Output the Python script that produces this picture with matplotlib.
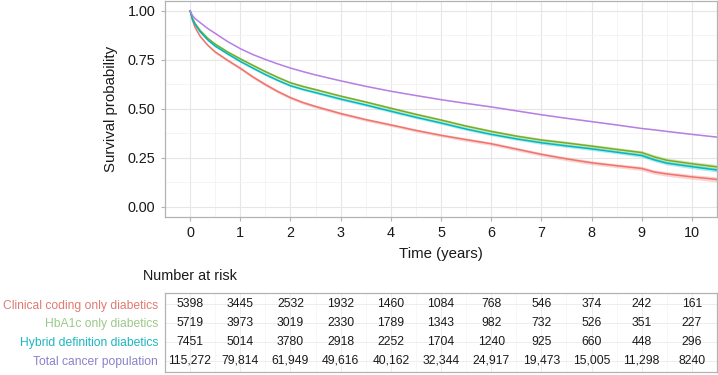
import matplotlib
matplotlib.use("Agg")
import matplotlib.pyplot as plt
import numpy as np

plt.rcParams['font.family'] = ['Liberation Sans', 'DejaVu Sans']

# ---- data ----
times = [0, 0.05, 0.1, 0.2, 0.35, 0.5, 0.75, 1, 1.25, 1.5, 1.75, 2, 2.25, 2.5, 3, 3.5,
         4, 4.5, 5, 5.5, 6, 6.5, 7, 7.5, 8, 8.5, 9, 9.25, 9.5, 10, 10.5]
surv_clinical = [1.0, 0.95, 0.915, 0.87, 0.825, 0.79, 0.747, 0.707, 0.663, 0.624, 0.588,
                 0.557, 0.532, 0.512, 0.476, 0.445, 0.418, 0.39, 0.365, 0.343, 0.322, 0.295,
                 0.268, 0.245, 0.225, 0.21, 0.196, 0.178, 0.168, 0.153, 0.14]
surv_hba1c = [1.0, 0.96, 0.935, 0.9, 0.86, 0.83, 0.79, 0.755, 0.722, 0.69, 0.66,
              0.633, 0.614, 0.598, 0.565, 0.535, 0.503, 0.472, 0.443, 0.412, 0.385, 0.361,
              0.341, 0.326, 0.31, 0.293, 0.277, 0.255, 0.238, 0.22, 0.204]
surv_hybrid = [1.0, 0.955, 0.93, 0.893, 0.852, 0.82, 0.78, 0.742, 0.708, 0.675, 0.645,
               0.618, 0.599, 0.583, 0.55, 0.52, 0.488, 0.457, 0.428, 0.397, 0.37, 0.347,
               0.327, 0.311, 0.296, 0.279, 0.262, 0.24, 0.223, 0.205, 0.188]
surv_total = [1.0, 0.975, 0.96, 0.94, 0.91, 0.885, 0.843, 0.807, 0.777, 0.752, 0.729,
              0.708, 0.69, 0.673, 0.643, 0.615, 0.59, 0.568, 0.547, 0.528, 0.51, 0.49,
              0.47, 0.452, 0.435, 0.418, 0.40, 0.393, 0.385, 0.37, 0.356]
# half-widths of 95% confidence bands
ci_clinical = [0, 0.003, 0.004, 0.005, 0.006, 0.007, 0.007, 0.008, 0.008, 0.008, 0.008,
               0.008, 0.008, 0.008, 0.008, 0.008, 0.008, 0.008, 0.008, 0.009, 0.009, 0.009,
               0.009, 0.010, 0.010, 0.010, 0.011, 0.011, 0.012, 0.012, 0.013]
ci_hba1c = [0, 0.003, 0.004, 0.005, 0.005, 0.006, 0.006, 0.007, 0.007, 0.007, 0.007,
            0.007, 0.007, 0.007, 0.007, 0.007, 0.008, 0.008, 0.008, 0.008, 0.008, 0.008,
            0.009, 0.009, 0.009, 0.010, 0.010, 0.011, 0.011, 0.011, 0.012]
ci_hybrid = [0, 0.002, 0.003, 0.004, 0.005, 0.005, 0.006, 0.006, 0.006, 0.006, 0.006,
             0.006, 0.006, 0.006, 0.007, 0.007, 0.007, 0.007, 0.007, 0.007, 0.007, 0.007,
             0.008, 0.008, 0.008, 0.008, 0.009, 0.009, 0.009, 0.010, 0.010]
ci_total = [0] + [0.0015] * 30

groups = ["Clinical coding only diabetics", "HbA1c only diabetics",
          "Hybrid definition diabetics", "Total cancer population"]
risk_times = [0, 1, 2, 3, 4, 5, 6, 7, 8, 9, 10]
risk_clinical = ["5398", "3445", "2532", "1932", "1460", "1084", "768", "546", "374", "242", "161"]
risk_hba1c = ["5719", "3973", "3019", "2330", "1789", "1343", "982", "732", "526", "351", "227"]
risk_hybrid = ["7451", "5014", "3780", "2918", "2252", "1704", "1240", "925", "660", "448", "296"]
risk_total = ["115,272", "79,814", "61,949", "49,616", "40,162", "32,344", "24,917",
              "19,473", "15,005", "11,298", "8240"]

line_colors = ["#F0736C", "#72AE2A", "#00B9C0", "#B77FE3"]
label_colors = ["#E07A74", "#9CC98A", "#1CB8C0", "#8A82CC"]

surv = [surv_clinical, surv_hba1c, surv_hybrid, surv_total]
cis = [ci_clinical, ci_hba1c, ci_hybrid, ci_total]
risks = [risk_clinical, risk_hba1c, risk_hybrid, risk_total]

W, H = 718, 375
fig = plt.figure(figsize=(W / 100, H / 100), dpi=100)

def fx(px):
    return px / W

def fy(py):
    return 1 - py / H

# main axes
ax = fig.add_axes([fx(165), fy(216.7), fx(717 - 165), (216.7 - 1) / H])
border = "#B3B3B3"
for sp in ax.spines.values():
    sp.set_color(border)
    sp.set_linewidth(0.9)

ax.set_xlim(-0.5, 10.5)
ax.set_ylim(-0.05, 1.05)
ax.set_xticks(risk_times)
ax.set_xticks(np.arange(-0.5, 10.6, 1), minor=True)
ax.set_yticks([0, 0.25, 0.5, 0.75, 1.0])
ax.set_yticks([0.125, 0.375, 0.625, 0.875], minor=True)
ax.set_yticklabels(["0.00", "0.25", "0.50", "0.75", "1.00"])
ax.grid(True, which="major", color="#E6E6E6", linewidth=0.8)
ax.grid(True, which="minor", color="#F2F2F2", linewidth=0.6)
ax.set_axisbelow(True)
ax.tick_params(axis="both", which="major", length=3, color="#B3B3B3", width=0.8,
               labelsize=10.4, labelcolor="#1A1A1A", pad=4)
ax.tick_params(axis="both", which="minor", length=0)

for s, c, col in zip(surv, cis, line_colors):
    t = np.array(times)
    s = np.array(s)
    c = np.array(c)
    ax.fill_between(t, s - c, s + c, color=col, alpha=0.3, linewidth=0)
    ax.plot(t, s, color=col, linewidth=1.1)

ax.set_ylabel("Survival probability", fontsize=10.8, color="#1A1A1A", labelpad=7)
fig.text(fx(441), fy(254), "Time (years)", ha="center", va="center", fontsize=10.8,
         color="#1A1A1A")

# risk table
fig.text(fx(143), fy(276), "Number at risk", ha="left", va="center", fontsize=10.4,
         color="#1A1A1A")

tax = fig.add_axes([fx(165), fy(372), fx(717 - 165), (372 - 292.7) / H])
for sp in tax.spines.values():
    sp.set_color(border)
    sp.set_linewidth(0.9)
tax.set_xlim(-0.5, 10.5)
tax.set_ylim(4.6, 0.4)
tax.set_xticks(risk_times)
tax.set_xticks(np.arange(-0.5, 10.6, 1), minor=True)
tax.set_yticks([1, 2, 3, 4])
tax.set_yticklabels(groups)
tax.grid(True, which="major", color="#EDEDED", linewidth=0.7)
tax.grid(True, which="minor", color="#F4F4F4", linewidth=0.5)
tax.set_axisbelow(True)
tax.tick_params(axis="x", which="both", length=0, labelbottom=False)
tax.tick_params(axis="y", which="both", length=0, labelsize=8.7, pad=5)
for lbl, col in zip(tax.get_yticklabels(), label_colors):
    lbl.set_color(col)

for row, vals in enumerate(risks, start=1):
    for t, v in zip(risk_times, vals):
        tax.text(t, row, v, ha="center", va="center", fontsize=8.7, color="#1A1A1A")

fig.savefig("out.png", dpi=100)
